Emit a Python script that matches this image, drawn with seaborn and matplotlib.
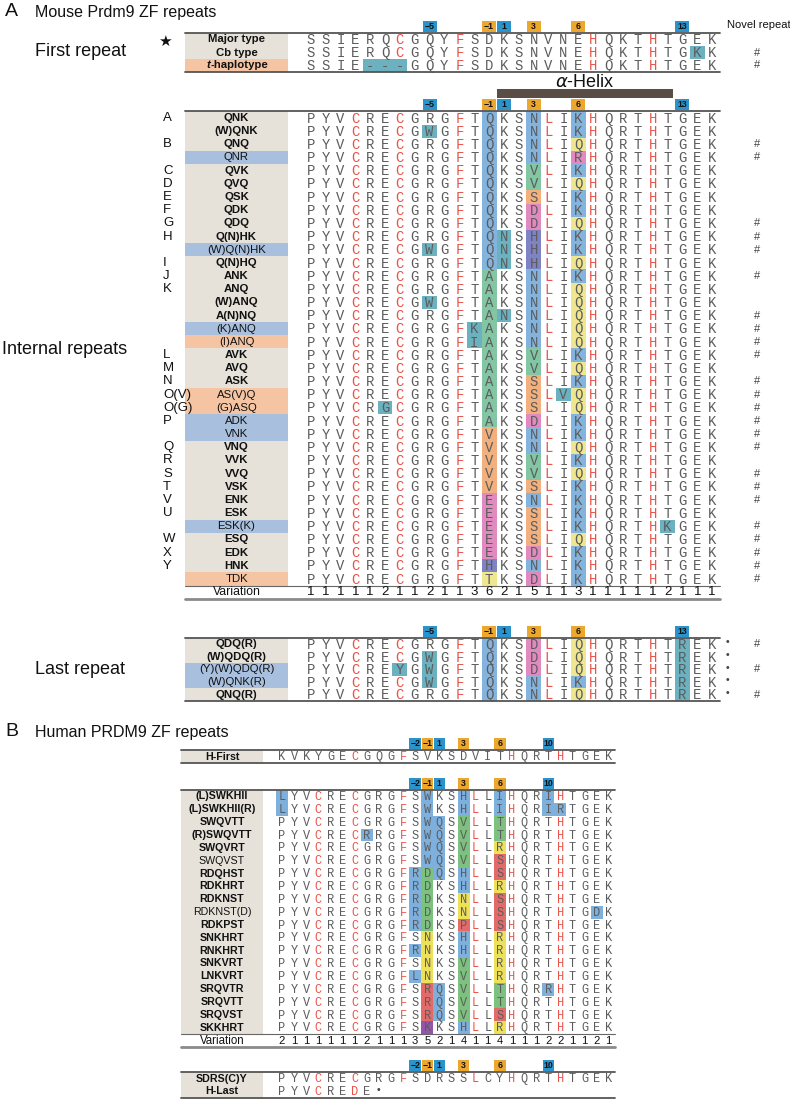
import numpy as np
import pandas as pd
import matplotlib
matplotlib.use("Agg")
import matplotlib.pyplot as plt
from matplotlib.colors import ListedColormap
import seaborn as sns

sns.set_style("white")
plt.rcParams["font.family"] = ["Liberation Sans", "DejaVu Sans"]

W, H = 790, 1102

# ---------------- data ----------------
# mouse first repeat
first_labels = ["Major type", "Cb type", "t-haplotype"]
first_seqs = ["SSIERQCGQY FSDKSNVNEH QKTHTGEK",
              "SSIERQCGQY FSDKSNVNEH QKTHTGKK",
              "SSIE---GQY FSDKSNVNEH QKTHTGEK"]
first_marks = [".......... .......... ........",
               ".......... .......... ......t.",
               "....ttt... .......... ........"]
first_group = ["g", "g", "s"]
first_novel = [0, 1, 1]

# mouse internal repeats
int_letters = ["A", "", "B", "", "C", "D", "E", "F", "G", "H", "", "I", "J", "K", "", "", "", "",
               "L", "M", "N", "O(V)", "O(G)", "P", "", "Q", "R", "S", "T", "V", "U", "", "W", "X", "Y", ""]
int_labels = ["QNK", "(W)QNK", "QNQ", "QNR", "QVK", "QVQ", "QSK", "QDK", "QDQ", "Q(N)HK",
              "(W)Q(N)HK", "Q(N)HQ", "ANK", "ANQ", "(W)ANQ", "A(N)NQ", "(K)ANQ", "(I)ANQ", "AVK", "AVQ",
              "ASK", "AS(V)Q", "(G)ASQ", "ADK", "VNK", "VNQ", "VVK", "VVQ", "VSK", "ENK",
              "ESK", "ESK(K)", "ESQ", "EDK", "HNK", "TDK"]
int_seqs = ["PYVCRECGRG FTQKSNLIKH QRTHTGEK", "PYVCRECGWG FTQKSNLIKH QRTHTGEK",
            "PYVCRECGRG FTQKSNLIQH QRTHTGEK", "PYVCRECGRG FTQKSNLIRH QRTHTGEK",
            "PYVCRECGRG FTQKSVLIKH QRTHTGEK", "PYVCRECGRG FTQKSVLIQH QRTHTGEK",
            "PYVCRECGRG FTQKSSLIKH QRTHTGEK", "PYVCRECGRG FTQKSDLIKH QRTHTGEK",
            "PYVCRECGRG FTQKSDLIQH QRTHTGEK", "PYVCRECGRG FTQNSHLIKH QRTHTGEK",
            "PYVCRECGWG FTQNSHLIKH QRTHTGEK", "PYVCRECGRG FTQNSHLIQH QRTHTGEK",
            "PYVCRECGRG FTAKSNLIKH QRTHTGEK", "PYVCRECGRG FTAKSNLIQH QRTHTGEK",
            "PYVCRECGWG FTAKSNLIQH QRTHTGEK", "PYVCRECGRG FTANSNLIQH QRTHTGEK",
            "PYVCRECGRG FKAKSNLIQH QRTHTGEK", "PYVCRECGRG FIAKSNLIQH QRTHTGEK",
            "PYVCRECGRG FTAKSVLIKH QRTHTGEK", "PYVCRECGRG FTAKSVLIQH QRTHTGEK",
            "PYVCRECGRG FTAKSSLIKH QRTHTGEK", "PYVCRECGRG FTAKSSLVQH QRTHTGEK",
            "PYVCRGCGRG FTAKSSLIQH QRTHTGEK", "PYVCRECGRG FTAKSDLIKH QRTHTGEK",
            "PYVCRECGRG FTVKSNLIKH QRTHTGEK", "PYVCRECGRG FTVKSNLIQH QRTHTGEK",
            "PYVCRECGRG FTVKSVLIKH QRTHTGEK", "PYVCRECGRG FTVKSVLIQH QRTHTGEK",
            "PYVCRECGRG FTVKSSLIKH QRTHTGEK", "PYVCRECGRG FTEKSNLIKH QRTHTGEK",
            "PYVCRECGRG FTEKSSLIKH QRTHTGEK", "PYVCRECGRG FTEKSSLIKH QRTHKGEK",
            "PYVCRECGRG FTEKSSLIQH QRTHTGEK", "PYVCRECGRG FTEKSDLIKH QRTHTGEK",
            "PYVCRECGRG FTHKSNLIKH QRTHTGEK", "PYVCRECGRG FTTKSDLIKH QRTHTGEK"]
int_marks = [".......... ..b..b..b. ........", "........t. ..b..b..b. ........",
             ".......... ..b..b..y. ........", ".......... ..b..b..p. ........",
             ".......... ..b..g..b. ........", ".......... ..b..g..y. ........",
             ".......... ..b..o..b. ........", ".......... ..b..p..b. ........",
             ".......... ..b..p..y. ........", ".......... ..bt.v..b. ........",
             "........t. ..bt.v..b. ........", ".......... ..bt.v..y. ........",
             ".......... ..g..b..b. ........", ".......... ..g..b..y. ........",
             "........t. ..g..b..y. ........", ".......... ..gt.b..y. ........",
             ".......... .tg..b..y. ........", ".......... .tg..b..y. ........",
             ".......... ..g..g..b. ........", ".......... ..g..g..y. ........",
             ".......... ..g..o..b. ........", ".......... ..g..o.ty. ........",
             ".....t.... ..g..o..y. ........", ".......... ..g..p..b. ........",
             ".......... ..o..b..b. ........", ".......... ..o..b..y. ........",
             ".......... ..o..g..b. ........", ".......... ..o..g..y. ........",
             ".......... ..o..o..b. ........", ".......... ..p..b..b. ........",
             ".......... ..p..o..b. ........", ".......... ..p..o..b. ....t...",
             ".......... ..p..o..y. ........", ".......... ..p..p..b. ........",
             ".......... ..v..b..b. ........", ".......... ..y..p..b. ........"]
int_group = ["g", "g", "g", "b", "g", "g", "g", "g", "g", "g",
             "b", "g", "g", "g", "g", "g", "b", "s", "g", "g",
             "g", "s", "s", "b", "b", "g", "g", "g", "g", "g",
             "g", "b", "g", "g", "g", "s"]
int_novel = [0, 0, 1, 1, 0, 0, 0, 0, 1, 1,
             1, 0, 1, 0, 0, 1, 1, 1, 1, 0,
             1, 1, 1, 1, 1, 1, 0, 1, 1, 1,
             0, 1, 1, 1, 1, 1]
mouse_variation = [1, 1, 1, 1, 1, 2, 1, 1, 2, 1, 1, 3, 6, 2, 1, 5, 1, 1, 3, 1, 1, 1, 1, 1, 2, 1, 1, 1]

# mouse last repeat
last_labels = ["QDQ(R)", "(W)QDQ(R)", "(Y)(W)QDQ(R)", "(W)QNK(R)", "QNQ(R)"]
last_seqs = ["PYVCRECGRG FTQKSDLIQH QRTHTREK", "PYVCRECGWG FTQKSDLIQH QRTHTREK",
             "PYVCREYGWG FTQKSDLIQH QRTHTREK", "PYVCRECGWG FTQKSNLIKH QRTHTREK",
             "PYVCRECGRG FTQKSNLIQH QRTHTREK"]
last_marks = [".......... ..b..p..y. .....t..", "........t. ..b..p..y. .....t..",
              "......t.t. ..b..p..y. .....t..", "........t. ..b..b..b. .....t..",
              ".......... ..b..b..y. .....t.."]
last_group = ["g", "g", "b", "b", "g"]
last_novel = [1, 0, 1, 0, 1]

# human
hfirst_labels = ["H-First"]
hfirst_seqs = ["KVKYGECGQG FSVKSDVITH QRTHTGEK"]
hfirst_marks = [".......... .......... ........"]

hint_labels = ["(L)SWKHII", "(L)SWKHII(R)", "SWQVTT", "(R)SWQVTT", "SWQVRT", "SWQVST", "RDQHST",
               "RDKHRT", "RDKNST", "RDKNST(D)", "RDKPST", "SNKHRT", "RNKHRT", "SNKVRT", "LNKVRT",
               "SRQVTR", "SRQVTT", "SRQVST", "SKKHRT"]
hint_seqs = ["LYVCRECGRG FSWKSHLLIH QRIHTGEK", "LYVCRECGRG FSWKSHLLIH QRIRTGEK",
             "PYVCRECGRG FSWQSVLLTH QRTHTGEK", "PYVCRECRRG FSWQSVLLTH QRTHTGEK",
             "PYVCRECGRG FSWQSVLLRH QRTHTGEK", "PYVCRECGRG FSWQSVLLSH QRTHTGEK",
             "PYVCRECGRG FRDQSHLLSH QRTHTGEK", "PYVCRECGRG FRDKSHLLRH QRTHTGEK",
             "PYVCRECGRG FRDKSNLLSH QRTHTGEK", "PYVCRECGRG FRDKSNLLSH QRTHTGDK",
             "PYVCRECGRG FRDKSPLLSH QRTHTGEK", "PYVCRECGRG FSNKSHLLRH QRTHTGEK",
             "PYVCRECGRG FRNKSHLLRH QRTHTGEK", "PYVCRECGRG FSNKSVLLRH QRTHTGEK",
             "PYVCRECGRG FLNKSVLLRH QRTHTGEK", "PYVCRECGRG FSRQSVLLTH QRRHTGEK",
             "PYVCRECGRG FSRQSVLLTH QRTHTGEK", "PYVCRECGRG FSRQSVLLSH QRTHTGEK",
             "PYVCRECGRG FSKKSHLLRH QRTHTGEK"]
hint_marks = ["b......... ..b..b..b. ..b.....", "b......... ..b..b..b. ..bb....",
              ".......... ..bb.g..g. ........", ".......b.. ..bb.g..g. ........",
              ".......... ..bb.g..y. ........", ".......... ..bb.g..r. ........",
              ".......... .bgb.b..r. ........", ".......... .bg..b..y. ........",
              ".......... .bg..y..r. ........", ".......... .bg..y..r. ......b.",
              ".......... .bg..r..r. ........", ".......... ..y..b..y. ........",
              ".......... .by..b..y. ........", ".......... ..y..g..y. ........",
              ".......... .by..g..y. ........", ".......... ..rb.g..g. ..b.....",
              ".......... ..rb.g..g. ........", ".......... ..rb.g..r. ........",
              ".......... ..v..b..y. ........"]
hint_plain = ["SWQVST", "RDKNST(D)"]
human_variation = [2, 1, 1, 1, 1, 1, 1, 2, 1, 1, 1, 3, 5, 2, 1, 4, 1, 1, 4, 1, 1, 1, 2, 2, 1, 1, 2, 1]

hlast_labels = ["SDRS(C)Y", "H-Last"]
hlast_seqs = ["PYVCRECGRG FSDRSSLCYH QRTHTGEK", "PYVCREDE"]
hlast_marks = [".......... .......... ........", "........"]

# numbered DNA-contact positions
mouse_pos_cols = [8, 12, 13, 15, 18, 25]
mouse_pos_text = ["\u22125", "\u22121", "1", "3", "6", "13"]
mouse_pos_kind = ["b", "o", "b", "o", "o", "b"]
human_pos_cols = [11, 12, 13, 15, 18, 22]
human_pos_text = ["\u22122", "\u22121", "1", "3", "6", "10"]
human_pos_kind = ["b", "o", "b", "o", "o", "b"]

red_cols = [3, 6, 10, 16, 19, 23]

# ---------------- styles ----------------
mouse_pal = {"b": "#84b4de", "t": "#6bb1bf", "g": "#82c6a3", "o": "#f1b07d",
             "y": "#efe790", "p": "#e08abf", "v": "#7f82c3"}
human_pal = {"b": "#7eb0de", "g": "#7cc27e", "y": "#eee15a", "r": "#e26b6a", "v": "#9456ab"}
group_col = {"g": "#e6e2da", "b": "#a8c0de", "s": "#f5c5a3"}
pos_col = {"b": "#2b93cc", "o": "#eca72e"}
RES = "#5c5c5c"
RED = "#e8544a"

fig = plt.figure(figsize=(W / 100, H / 100), dpi=100)

# geometry (pixels): label box left, first column left edge, column pitch, label box right
mouse_geo = (185, 303.2, 14.87, 288)
human_geo = (181, 276.0, 12.1, 263)


def block(geo, top, row_h, labels, seqs, marks, pal, group=None, novel=None, letters=None,
          variation=None, pos=None, lab_size=8.2, res_size=10.0, plain=(), tail=None):
    x_left, grid_left, pitch, label_right = geo
    n = len(seqs)
    nrows = n + (1 if variation is not None else 0)
    right = grid_left + 28 * pitch
    bottom = top + nrows * row_h
    ax = fig.add_axes([x_left / W, 1 - bottom / H, (right - x_left) / W, (bottom - top) / H])
    keys = list(pal)
    codes = np.array([[keys.index(c) + 1 if c in pal else 0
                       for c in m.replace(" ", "").ljust(28, ".")] for m in marks])
    if codes.any():
        sns.heatmap(pd.DataFrame(codes), mask=codes == 0, cmap=ListedColormap(list(pal.values())),
                    vmin=0.5, vmax=len(keys) + 0.5, cbar=False, xticklabels=False,
                    yticklabels=False, linewidths=0, ax=ax)
    xl = (x_left - grid_left) / pitch
    xr = (label_right - grid_left) / pitch
    ax.set_xlim(xl, 28)
    ax.set_ylim(nrows, 0)
    ax.axis("off")

    if group is None:
        group = ["g"] * n
    ax.barh(np.arange(n) + 0.5, xr - xl, left=xl, height=1.0,
            color=[group_col[g] for g in group], linewidth=0)
    xc = (xl + xr) / 2
    for i, lab in enumerate(labels):
        weight = "bold" if group[i] == "g" and lab not in plain else "normal"
        if lab.startswith("t-"):
            ax.text(xc - 1.75, i + 0.5, "t", ha="right", va="center", fontsize=lab_size,
                    fontweight="bold", fontstyle="italic", color="#111")
            ax.text(xc - 1.75, i + 0.5, lab[1:], ha="left", va="center", fontsize=lab_size,
                    fontweight="bold", color="#111")
        else:
            ax.text(xc, i + 0.5, lab, ha="center", va="center", fontsize=lab_size,
                    fontweight=weight, color="#111")

    for i, s in enumerate(seqs):
        for j, ch in enumerate(s.replace(" ", "")):
            col = RED if (j in red_cols and ch in "CFLHD") else RES
            ax.text(j + 0.5, i + 0.55, ch, family="Liberation Mono", fontsize=res_size,
                    color=col, ha="center", va="center")

    ax.axhline(0, color="#555555", lw=1.3, clip_on=False)
    if variation is not None:
        ax.axhline(n, color="#666666", lw=0.8, clip_on=False)
        ax.axhline(nrows, color="#8a8a8a", lw=2.0, clip_on=False)
        ax.text(xc, n + 0.5, "Variation", ha="center", va="center", fontsize=lab_size + 0.6,
                color="#111")
        for j, v in enumerate(variation):
            ax.text(j + 0.5, n + 0.5, str(v), ha="center", va="center", fontsize=res_size - 0.5,
                    color="#111")
    else:
        ax.axhline(nrows, color="#555555", lw=1.3, clip_on=False)

    if pos is not None:
        cols, texts, kinds = pos
        hb, gap = 11 / row_h, 1 / row_h
        ax.bar(np.array(cols) + 0.5, hb, bottom=-(gap + hb), width=0.95,
               color=[pos_col[k] for k in kinds], linewidth=0, clip_on=False)
        for c, t in zip(cols, texts):
            ax.text(c + 0.5, -(gap + hb / 2), t, ha="center", va="center", fontsize=6.3,
                    fontweight="bold", color="#111")

    if novel is not None:
        xs = (757 - grid_left) / pitch
        for i, f in enumerate(novel):
            if f:
                ax.text(xs, i + 0.5, "#", ha="center", va="center", fontsize=8, color="#444")
    if letters is not None:
        xlet = (163 - grid_left) / pitch
        for i, let in enumerate(letters):
            if let:
                ax.text(xlet, i + 0.5, let, ha="left", va="center", fontsize=9.5, color="#111")
    if tail is not None:
        for i, c in tail:
            ax.text(c + 0.5, i + 0.35, "\u2022", ha="center", va="center", fontsize=7.5, color="#444")
    return ax


mpos = (mouse_pos_cols, mouse_pos_text, mouse_pos_kind)
hpos = (human_pos_cols, human_pos_text, human_pos_kind)

block(mouse_geo, 33, 13.0, first_labels, first_seqs, first_marks, mouse_pal,
      group=first_group, novel=first_novel, pos=mpos)
ax_int = block(mouse_geo, 111.4, 13.17, int_labels, int_seqs, int_marks, mouse_pal,
               group=int_group, novel=int_novel, letters=int_letters,
               variation=mouse_variation, pos=mpos)
block(mouse_geo, 638, 12.6, last_labels, last_seqs, last_marks, mouse_pal,
      group=last_group, novel=last_novel, pos=mpos, tail=[(i, 28) for i in range(5)])

block(human_geo, 750, 13.0, hfirst_labels, hfirst_seqs, hfirst_marks, human_pal,
      pos=hpos, lab_size=7.7, res_size=8.6)
block(human_geo, 790, 12.85, hint_labels, hint_seqs, hint_marks, human_pal,
      variation=human_variation, pos=hpos, lab_size=7.7, res_size=8.6, plain=hint_plain)
block(human_geo, 1072, 13.0, hlast_labels, hlast_seqs, hlast_marks, human_pal,
      pos=hpos, lab_size=7.7, res_size=8.6, tail=[(1, 8)])

# alpha helix bar above the internal repeats
ax_int.bar(13, 0.68, width=11.9, bottom=-1.70, align="edge", color="#5a4d45",
           linewidth=0, clip_on=False)
ax_int.text(18.95, -2.16, r"$\alpha$-Helix", ha="center", va="center", fontsize=13, color="#111")

# section titles and side labels
def ftext(x, y, s, **kw):
    fig.text(x / W, 1 - y / H, s, va="center", color="#111", **kw)

ftext(5, 12, "A", fontsize=14)
ftext(35, 12, "Mouse Prdm9 ZF repeats", fontsize=11.5)
ftext(5, 732, "B", fontsize=14)
ftext(35, 732, "Human PRDM9 ZF repeats", fontsize=11.5)
ftext(35, 52, "First repeat", fontsize=13)
ftext(2, 350, "Internal repeats", fontsize=13)
ftext(35, 670, "Last repeat", fontsize=13)
ftext(727, 25, "Novel repeat", fontsize=8)
ftext(158, 41, "\u2605", fontsize=11, family="DejaVu Sans")

fig.savefig("out.png", dpi=100)
